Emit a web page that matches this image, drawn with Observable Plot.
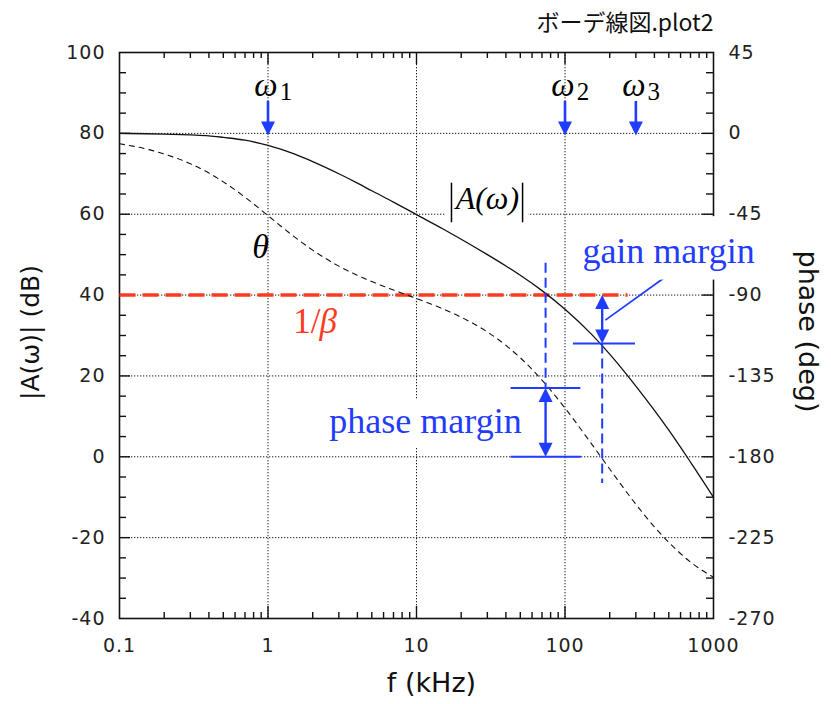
<!DOCTYPE html>
<html>
<head>
<meta charset="utf-8">
<script src="https://cdn.jsdelivr.net/npm/d3@7"></script>
<script src="https://cdn.jsdelivr.net/npm/@observablehq/plot@0.6"></script>
<style>
  html, body { margin: 0; padding: 0; background: #fff; }
  g[aria-label="x-axis tick label"] text,
  g[aria-label="y-axis tick label"] text { letter-spacing: 1px; }
</style>
</head>
<body>
<div id="chart"></div>
<script>
// ---- data ----
const freqKHz = [0.1, 0.15, 0.2, 0.3, 0.4, 0.5, 0.7, 1, 1.5, 2, 3, 4, 5, 7, 10, 15, 20, 30, 40, 50, 70, 100, 150, 200, 300, 400, 500, 700, 1000];
const gainDb  = [80.0, 79.9, 79.8, 79.6, 79.4, 79.0, 78.3, 77.0, 74.9, 73.0, 70.0, 67.7, 65.8, 63.0, 59.9, 56.4, 53.8, 50.0, 47.2, 44.9, 41.1, 36.5, 30.4, 25.4, 17.5, 11.5, 6.6, -1.3, -10.0];
const phaseDeg = [-5.8, -8.6, -11.5, -16.9, -22.1, -27.0, -35.5, -45.8, -57.5, -65.0, -73.9, -79.0, -82.5, -87.2, -91.9, -97.6, -102.3, -110.5, -118.0, -124.9, -137.3, -152.9, -172.5, -186.8, -206.4, -219.0, -227.6, -238.6, -247.0];

const xTickValues = [0.1, 1, 10, 100, 1000];
const gainTicks = [-40, -20, 0, 20, 40, 60, 80, 100];
const phaseTicks = [-270, -225, -180, -135, -90, -45, 0, 45];

const omegaNames = ["1", "2", "3"];
const omegaFreqs = [1, 100, 300];

const invBetaDb = 40;           // 1/β level
const invBetaEndF = 264;        // end of the red dashed line
const phaseCrossF = 74;         // |A| = 1/β
const phaseAtCrossDb = 17;      // phase curve at phaseCrossF (on dB scale)
const gainCrossF = 178;         // phase = -180°
const gainAtCrossDb = 28;       // |A| at gainCrossF

// phase axis shares the frame: 0° ↔ 80 dB, 2.25° per dB
const phaseToDb = p => 80 + p / 2.25;
const dbToPhase = d => (d - 80) * 2.25;

const curve = freqKHz.map((f, i) => ({f, gain: gainDb[i], phase: phaseToDb(phaseDeg[i])}));

const minorX = [];
for (const dec of [0.1, 1, 10, 100]) for (let k = 2; k <= 9; k++) minorX.push(+(dec * k).toPrecision(3));
const majorXInner = [1, 10, 100];
const majorY = [-20, 0, 20, 40, 60, 80];
const minorY = d3.range(-35, 100, 5).filter(v => v % 20 !== 0);

const BLUE = "#1f3cff";
const RED = "#ff3b1f";
const SERIF = "Liberation Serif, Times New Roman, serif";
const SANS = "DejaVu Sans, Verdana, sans-serif";

const W = 831, H = 704, ML = 119, MR = 118, MT = 52, MB = 86;
const FW = W - ML - MR, FH = H - MT - MB;

const headDown = {draw(ctx) { ctx.moveTo(0, 0); ctx.lineTo(-7, -14); ctx.lineTo(7, -14); ctx.closePath(); }};
const headUp   = {draw(ctx) { ctx.moveTo(0, 0); ctx.lineTo(-7, 14); ctx.lineTo(7, 14); ctx.closePath(); }};

const omegas = omegaFreqs.map((f, i) => ({f, name: omegaNames[i]}));

const chart = Plot.plot({
  width: W, height: H,
  marginLeft: ML, marginRight: MR, marginTop: MT, marginBottom: MB,
  style: {fontFamily: SANS, background: "#fff", overflow: "visible"},
  x: {type: "log", domain: [0.1, 1000], axis: null},
  y: {domain: [-40, 100], axis: null},
  marks: [
    // dotted grid
    Plot.gridX({ticks: majorXInner, stroke: "#000", strokeOpacity: 0.9, strokeWidth: 1, strokeDasharray: "1.3,1.7"}),
    Plot.gridY({ticks: majorY, stroke: "#000", strokeOpacity: 0.9, strokeWidth: 1, strokeDasharray: "1.3,1.7"}),
    // frame
    Plot.frame({stroke: "#111", strokeWidth: 1.6}),
    // inward ticks
    Plot.tickY(majorY, {y: d => d, stroke: "#111", strokeWidth: 1.4, insetRight: FW - 11}),
    Plot.tickY(majorY, {y: d => d, stroke: "#111", strokeWidth: 1.4, insetLeft: FW - 11}),
    Plot.tickY(minorY, {y: d => d, stroke: "#111", strokeWidth: 1.4, insetRight: FW - 7}),
    Plot.tickY(minorY, {y: d => d, stroke: "#111", strokeWidth: 1.4, insetLeft: FW - 7}),
    Plot.tickX(majorXInner, {x: d => d, stroke: "#111", strokeWidth: 1.4, insetTop: FH - 12}),
    Plot.tickX(majorXInner, {x: d => d, stroke: "#111", strokeWidth: 1.4, insetBottom: FH - 12}),
    Plot.tickX(minorX, {x: d => d, stroke: "#111", strokeWidth: 1.4, insetTop: FH - 6}),
    Plot.tickX(minorX, {x: d => d, stroke: "#111", strokeWidth: 1.4, insetBottom: FH - 6}),
    // 1/β line
    Plot.link([{}], {x1: 0.1, x2: invBetaEndF, y1: invBetaDb, y2: invBetaDb, stroke: RED, strokeWidth: 3.5, strokeDasharray: "16,7"}),
    // curves
    Plot.line(curve, {x: "f", y: "gain", stroke: "#111", strokeWidth: 1.3, curve: "monotone-x"}),
    Plot.line(curve, {x: "f", y: "phase", stroke: "#111", strokeWidth: 1.1, strokeDasharray: "5,5", curve: "monotone-x"}),
    // ω arrows
    Plot.link(omegas, {x1: "f", x2: "f", y1: 88, y2: 82.5, stroke: BLUE, strokeWidth: 2.6}),
    Plot.dot(omegas, {x: "f", y: 79.5, symbol: headDown, fill: BLUE, stroke: "none"}),
    Plot.text(omegas, {x: "f", y: 91.8, text: () => "ω", dx: -2, fontFamily: SERIF, fontStyle: "italic", fontSize: 33, fill: "#000"}),
    Plot.text(omegas, {x: "f", y: 90.3, text: "name", dx: 18, fontFamily: SERIF, fontSize: 25, fill: "#000"}),
    // phase margin construction
    Plot.link([{}], {x1: phaseCrossF, x2: phaseCrossF, y1: 48, y2: phaseAtCrossDb, stroke: BLUE, strokeWidth: 2, strokeDasharray: "10,5"}),
    Plot.link([{}], {x1: 43, x2: 127, y1: phaseAtCrossDb, y2: phaseAtCrossDb, stroke: BLUE, strokeWidth: 2}),
    Plot.link([{}], {x1: 43, x2: 128, y1: 0, y2: 0, stroke: BLUE, strokeWidth: 2}),
    Plot.link([{}], {x1: phaseCrossF, x2: phaseCrossF, y1: phaseAtCrossDb - 2, y2: 2, stroke: BLUE, strokeWidth: 2.4}),
    Plot.dot([{}], {x: phaseCrossF, y: phaseAtCrossDb, symbol: headUp, fill: BLUE, stroke: "none"}),
    Plot.dot([{}], {x: phaseCrossF, y: 0, symbol: headDown, fill: BLUE, stroke: "none"}),
    // gain margin construction
    Plot.link([{}], {x1: gainCrossF, x2: gainCrossF, y1: gainAtCrossDb, y2: -6.5, stroke: BLUE, strokeWidth: 2, strokeDasharray: "10,5"}),
    Plot.link([{}], {x1: 113, x2: 296, y1: gainAtCrossDb, y2: gainAtCrossDb, stroke: BLUE, strokeWidth: 2}),
    Plot.link([{}], {x1: gainCrossF, x2: gainCrossF, y1: invBetaDb - 2, y2: gainAtCrossDb + 2, stroke: BLUE, strokeWidth: 2.4}),
    Plot.dot([{}], {x: gainCrossF, y: invBetaDb, symbol: headUp, fill: BLUE, stroke: "none"}),
    Plot.dot([{}], {x: gainCrossF, y: gainAtCrossDb, symbol: headDown, fill: BLUE, stroke: "none"}),
    Plot.link([{}], {x1: 500, y1: 45.1, x2: 187, y2: 33.8, stroke: BLUE, strokeWidth: 1.8}),
    // white label backgrounds
    Plot.rect([{}], {x1: 15.7, x2: 56.8, y1: 57.5, y2: 68.2, fill: "#fff"}),
    Plot.rect([{}], {x1: 2.19, x2: 59.4, y1: 2.3, y2: 14.1, fill: "#fff"}),
    Plot.rect([{}], {x1: 123, x2: 2070, y1: 43.7, y2: 59.4, fill: "#fff"}),
    // labels
    Plot.link([{}], {x1: 17.2, x2: 17.2, y1: 58.0, y2: 67.8, stroke: "#000", strokeWidth: 1.5}),
    Plot.link([{}], {x1: 51.8, x2: 51.8, y1: 58.0, y2: 67.8, stroke: "#000", strokeWidth: 1.5}),
    Plot.text(["A(ω)"], {x: 30, y: 63.9, fontFamily: SERIF, fontStyle: "italic", fontSize: 32, fill: "#000"}),
    Plot.text(["θ"], {x: 0.89, y: 51.8, fontFamily: SERIF, fontStyle: "italic", fontSize: 34, fill: "#000"}),
    Plot.text(["1/"], {x: 2.26, y: 33.3, textAnchor: "end", fontFamily: SERIF, fontSize: 35, fill: RED}),
    Plot.text(["β"], {x: 2.26, y: 33.3, textAnchor: "start", dx: -1, fontFamily: SERIF, fontStyle: "italic", fontSize: 35, fill: RED}),
    Plot.text(["phase margin"], {x: 11.5, y: 8.8, fontFamily: SERIF, fontSize: 36, fill: BLUE}),
    Plot.text(["gain margin"], {x: 498, y: 50.7, fontFamily: SERIF, fontSize: 36, fill: BLUE}),
    // axes tick labels
    Plot.axisX({ticks: xTickValues, tickFormat: d => String(d), tickSize: 0, tickPadding: 20, fontSize: 19, fill: "#222", label: null}),
    Plot.axisY({anchor: "left", ticks: gainTicks, tickFormat: d => String(d), tickSize: 0, tickPadding: 14, fontSize: 19, fill: "#222", label: null}),
    Plot.axisY({anchor: "right", ticks: phaseTicks.map(phaseToDb), tickFormat: d => String(Math.round(dbToPhase(d))), tickSize: 0, tickPadding: 15, fontSize: 19, fill: "#222", label: null}),
    // axis titles and title
    Plot.text(["|A(ω)| (dB)"], {frameAnchor: "left", dx: -89, dy: -3, rotate: -90, textAnchor: "middle", lineAnchor: "middle", fontSize: 25, fill: "#111"}),
    Plot.text(["phase (deg)"], {frameAnchor: "right", dx: 94, dy: -4, rotate: 90, textAnchor: "middle", lineAnchor: "middle", fontSize: 27, fill: "#111"}),
    Plot.text(["f (kHz)"], {frameAnchor: "bottom", dx: 15, dy: 65, textAnchor: "middle", lineAnchor: "middle", fontSize: 27, fill: "#111"}),
    Plot.text(["ボーデ線図.plot2"], {frameAnchor: "top-right", dy: -29, textAnchor: "end", lineAnchor: "middle", fontSize: 23, fontFamily: "Noto Sans CJK JP, DejaVu Sans, sans-serif", fill: "#111"})
  ]
});
document.getElementById("chart").appendChild(chart);
</script>
</body>
</html>
